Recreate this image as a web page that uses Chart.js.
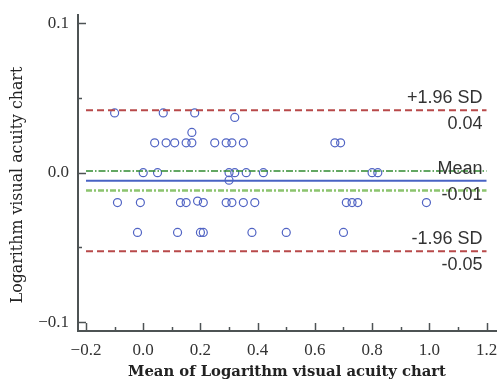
<!DOCTYPE html>
<html lang="en">
<head>
  <meta charset="UTF-8">
  <title>Bland-Altman plot</title>
  <script src="https://cdn.jsdelivr.net/npm/chart.js"></script>
  <style>
    body { margin: 0; background: #fff; }
    #wrap { width: 502px; height: 384px; }
  </style>
</head>
<body>
  <div id="wrap">
    <canvas id="baChart" width="502" height="384"></canvas>
  </div>
  <script>
    // points (mean, difference)
    const pointX = [-0.10, 0.07, 0.18, 0.32, 0.17,
      0.04, 0.08, 0.11, 0.15, 0.17, 0.25, 0.29, 0.31, 0.35, 0.67, 0.69,
      0.00, 0.05, 0.30, 0.32, 0.36, 0.42, 0.80, 0.82, 0.30,
      -0.09, -0.01, 0.13, 0.15, 0.19, 0.21, 0.29, 0.31, 0.35, 0.39, 0.71, 0.73, 0.75, 0.99,
      -0.02, 0.12, 0.20, 0.21, 0.38, 0.50, 0.70];
    const pointY = [0.04, 0.04, 0.04, 0.037, 0.027,
      0.02, 0.02, 0.02, 0.02, 0.02, 0.02, 0.02, 0.02, 0.02, 0.02, 0.02,
      0, 0, 0, 0, 0, 0, 0, 0, -0.005,
      -0.02, -0.02, -0.02, -0.02, -0.019, -0.02, -0.02, -0.02, -0.02, -0.02, -0.02, -0.02, -0.02, -0.02,
      -0.04, -0.04, -0.04, -0.04, -0.04, -0.04, -0.04];

    const upperLoA = 0.0418;
    const meanDiff = -0.0054;
    const lowerLoA = -0.0526;
    const meanCIUpper = 0.0011;
    const meanCILower = -0.0119;
    const lineRange = [-0.2, 1.2];

    const limitNames = ['+1.96 SD', 'Mean', '-1.96 SD'];
    const limitValues = ['0.04', '-0.01', '-0.05'];

    const yTicks = [-0.1, -0.05, 0, 0.05, 0.1];
    const yMajor = [-0.1, 0, 0.1];
    const xTicks = [-0.2, -0.1, 0, 0.1, 0.2, 0.3, 0.4, 0.5, 0.6, 0.7, 0.8, 0.9, 1.0, 1.1, 1.2];
    const xMajor = [-0.2, 0, 0.2, 0.4, 0.6, 0.8, 1.0, 1.2];

    const axisColor = '#4d5354';
    const serif = '"Liberation Serif", "DejaVu Serif", serif';
    const wideSerif = '"DejaVu Serif", serif';

    function isMajor(list, v) {
      return list.some(m => Math.abs(m - v) < 1e-6);
    }
    function fmt(v) {
      return v.toFixed(1).replace('-', '\u2212');
    }
    function hline(v, color, dash, width) {
      return {
        type: 'line',
        data: lineRange.map(x => ({ x: x, y: v })),
        borderColor: color,
        borderDash: dash,
        borderWidth: width,
        pointRadius: 0,
        fill: false
      };
    }

    // inward ticks, axis titles and limit labels
    const decorations = {
      id: 'decorations',
      afterDraw(chart) {
        const ctx = chart.ctx;
        const xs = chart.scales.x, ys = chart.scales.y;
        const area = chart.chartArea;
        ctx.save();
        ctx.strokeStyle = axisColor;
        ctx.lineWidth = 1.5;
        yTicks.forEach(v => {
          const py = Math.round(ys.getPixelForValue(v)) + 0.5;
          const len = isMajor(yMajor, v) ? 8 : 4;
          ctx.beginPath();
          ctx.moveTo(area.left, py);
          ctx.lineTo(area.left + len, py);
          ctx.stroke();
        });
        xTicks.forEach(v => {
          const px = Math.round(xs.getPixelForValue(v)) + 0.5;
          const len = isMajor(xMajor, v) ? 8 : 4;
          ctx.beginPath();
          ctx.moveTo(px, area.bottom);
          ctx.lineTo(px, area.bottom - len);
          ctx.stroke();
        });

        // axis titles
        ctx.fillStyle = '#222';
        ctx.textAlign = 'center';
        ctx.textBaseline = 'middle';
        ctx.font = 'bold 14.8px ' + wideSerif;
        ctx.fillText('Mean of Logarithm visual acuity chart', 287, 372);
        ctx.translate(18, 185);
        ctx.rotate(-Math.PI / 2);
        ctx.font = '15.8px ' + wideSerif;
        ctx.fillText('Logarithm visual acuity chart', 0, 0);
        ctx.restore();

        // limit labels on the right
        ctx.save();
        ctx.fillStyle = '#333';
        ctx.font = '18px "Liberation Sans", Arial, sans-serif';
        ctx.textAlign = 'right';
        ctx.textBaseline = 'middle';
        const right = xs.getPixelForValue(1.2) - 4;
        [upperLoA, meanDiff, lowerLoA].forEach((v, i) => {
          const py = ys.getPixelForValue(v);
          ctx.fillText(limitNames[i], right, py - 12);
          ctx.fillText(limitValues[i], right, py + 14);
        });
        ctx.restore();
      }
    };

    new Chart(document.getElementById('baChart'), {
      type: 'scatter',
      data: {
        datasets: [
          hline(upperLoA, '#b8494a', [7, 4], 2),
          hline(lowerLoA, '#b8494a', [7, 4], 2),
          hline(meanCIUpper, '#2f8a2f', [7, 2, 1.5, 2], 1.5),
          hline(meanCILower, '#8cc46e', [6, 2, 2, 2], 2.5),
          hline(meanDiff, '#4863c4', [], 2),
          {
            data: pointX.map((x, i) => ({ x: x, y: pointY[i] })),
            pointStyle: 'circle',
            pointRadius: 4,
            borderWidth: 1.2,
            borderColor: '#5164c4',
            backgroundColor: 'rgba(0,0,0,0)'
          }
        ]
      },
      options: {
        responsive: false,
        animation: false,
        layout: { padding: { top: 15, right: 5, left: 0, bottom: 0 } },
        plugins: { legend: { display: false }, tooltip: { enabled: false } },
        scales: {
          x: {
            type: 'linear',
            min: -0.228,
            max: 1.236,
            afterBuildTicks: s => { s.ticks = xTicks.map(v => ({ value: v })); },
            afterFit: s => { s.height = 53; s.paddingLeft = 0; s.paddingRight = 0; },
            grid: { display: false, drawTicks: false },
            border: { display: true, color: axisColor, width: 2 },
            ticks: {
              padding: 9,
              color: '#333',
              font: { family: serif, size: 17 },
              maxRotation: 0,
              autoSkip: false,
              callback: v => isMajor(xMajor, v) ? fmt(v) : ''
            }
          },
          y: {
            type: 'linear',
            min: -0.106,
            max: 0.1056,
            afterBuildTicks: s => { s.ticks = yTicks.map(v => ({ value: v })); },
            afterFit: s => { s.width = 78; s.paddingTop = 0; s.paddingBottom = 0; },
            grid: { display: false, drawTicks: false },
            border: { display: true, color: axisColor, width: 2 },
            ticks: {
              padding: 9,
              color: '#333',
              font: { family: serif, size: 17 },
              autoSkip: false,
              callback: v => isMajor(yMajor, v) ? fmt(v) : ''
            }
          }
        }
      },
      plugins: [decorations]
    });
  </script>
</body>
</html>
